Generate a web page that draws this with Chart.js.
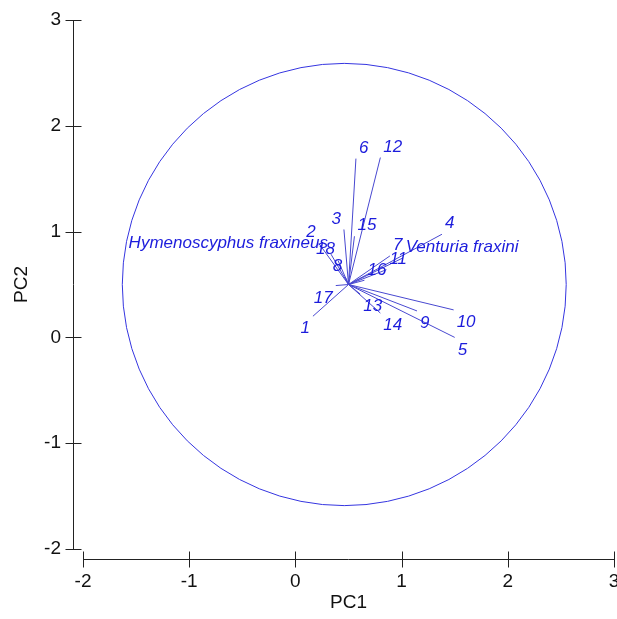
<!DOCTYPE html>
<html>
<head>
<meta charset="utf-8">
<style>
  html, body { margin: 0; padding: 0; background: #fff; }
  #wrap { width: 617px; height: 619px; }
</style>
<script src="https://cdn.jsdelivr.net/npm/chart.js@4"></script>
</head>
<body>
<div id="wrap"><canvas id="biplot" width="617" height="619"></canvas></div>
<script>
    // PCA biplot: loading vectors drawn from a common origin
    const vectorLabels = ['1', '2', '3', '4', '5', '6', '7', '8', '9', '10', '11', '12', '13', '14', '15', '16', '17', '18',
        'Hymenoscyphus fraxineus', 'Venturia fraxini'];
    const pc1End = [0.165, 0.22, 0.457, 1.38, 1.50, 0.57, 0.89, 0.47, 1.145, 1.49, 0.857, 0.80, 0.61, 0.80, 0.556, 0.65, 0.38, 0.40, 0.335, 1.01];
    const pc2End = [0.20, 0.89, 1.02, 0.975, 0.0, 1.69, 0.77, 0.57, 0.25, 0.26, 0.64, 1.70, 0.41, 0.23, 0.956, 0.54, 0.49, 0.73, 0.787, 0.75];
    const vectorOrigin = [0.5, 0.5];
    const axisTicks = [-2, -1, 0, 1, 2, 3];
    const circleCenter = [0.46, 0.5];
    const circleRadius = 2.09;

    const blue = '#1c1cdc';
    const lineBlue = '#4848d0';
    const font = '"Liberation Sans", Arial, sans-serif';

    const datasets = vectorLabels.map((label, i) => ({
        label,
        data: [
            { x: vectorOrigin[0], y: vectorOrigin[1] },
            { x: pc1End[i], y: pc2End[i] }
        ],
        showLine: true,
        borderColor: lineBlue,
        borderWidth: 1,
        pointRadius: 0,
        fill: false
    }));

    const circlePlugin = {
        id: 'circle',
        beforeDatasetsDraw(chart) {
            const { ctx, scales: { x, y } } = chart;
            const cx = x.getPixelForValue(circleCenter[0]);
            const cy = y.getPixelForValue(circleCenter[1]);
            const rx = x.getPixelForValue(circleCenter[0] + circleRadius) - cx;
            const ry = cy - y.getPixelForValue(circleCenter[1] + circleRadius);
            ctx.save();
            ctx.strokeStyle = '#3535e0';
            ctx.lineWidth = 1;
            ctx.beginPath();
            ctx.ellipse(cx, cy, rx, ry, 0, 0, Math.PI * 2);
            ctx.stroke();
            ctx.restore();
        }
    };

    const labelPlugin = {
        id: 'vectorLabels',
        afterDatasetsDraw(chart) {
            const { ctx, scales: { x, y } } = chart;
            ctx.save();
            ctx.fillStyle = blue;
            ctx.font = 'italic 17px ' + font;
            vectorLabels.forEach((label, i) => {
                const dx = pc1End[i] - vectorOrigin[0];
                const dy = pc2End[i] - vectorOrigin[1];
                const px = x.getPixelForValue(pc1End[i]);
                const py = y.getPixelForValue(pc2End[i]);
                ctx.textAlign = dx >= 0 ? 'left' : 'right';
                ctx.textBaseline = dy >= 0 ? 'bottom' : 'top';
                ctx.fillText(label, px + (dx >= 0 ? 3 : -3), py + (dy >= 0 ? -2 : 4));
            });
            ctx.restore();
        }
    };

    // detached axes, drawn a little outside the plot area
    const axesPlugin = {
        id: 'axes',
        afterDraw(chart) {
            const { ctx, chartArea, scales: { x, y } } = chart;
            const yAxisX = Math.round(chartArea.left - 10) + 0.5;
            const xAxisY = Math.round(chartArea.bottom + 10) + 0.5;
            ctx.save();
            ctx.strokeStyle = '#222';
            ctx.lineWidth = 1;
            ctx.beginPath();
            ctx.moveTo(yAxisX, y.getPixelForValue(axisTicks[axisTicks.length - 1]));
            ctx.lineTo(yAxisX, y.getPixelForValue(axisTicks[0]));
            axisTicks.forEach((t) => {
                const py = Math.round(y.getPixelForValue(t)) + 0.5;
                ctx.moveTo(yAxisX - 8, py);
                ctx.lineTo(yAxisX + 8, py);
            });
            ctx.moveTo(x.getPixelForValue(axisTicks[0]), xAxisY);
            ctx.lineTo(x.getPixelForValue(axisTicks[axisTicks.length - 1]), xAxisY);
            axisTicks.forEach((t) => {
                const px = Math.round(x.getPixelForValue(t)) + 0.5;
                ctx.moveTo(px, xAxisY - 8);
                ctx.lineTo(px, xAxisY + 8);
            });
            ctx.stroke();
            ctx.restore();
        }
    };

    const zeroPadding = (scale) => {
        scale.paddingLeft = 0;
        scale.paddingRight = 0;
        scale.paddingTop = 0;
        scale.paddingBottom = 0;
    };

    new Chart(document.getElementById('biplot'), {
        type: 'scatter',
        data: { datasets },
        options: {
            responsive: false,
            animation: false,
            layout: { padding: { top: 20, right: 3, left: 0, bottom: 0 } },
            plugins: {
                legend: { display: false },
                tooltip: { enabled: false }
            },
            scales: {
                x: {
                    type: 'linear',
                    min: -2,
                    max: 3,
                    afterFit(scale) {
                        scale.height = 70;
                        zeroPadding(scale);
                    },
                    ticks: {
                        stepSize: 1,
                        padding: 13,
                        color: '#111',
                        font: { family: font, size: 19 }
                    },
                    grid: { display: false },
                    border: { display: false },
                    title: {
                        display: true,
                        text: 'PC1',
                        color: '#111',
                        font: { family: font, size: 19 },
                        padding: { top: 0, bottom: 5 }
                    }
                },
                y: {
                    type: 'linear',
                    min: -2,
                    max: 3,
                    afterFit(scale) {
                        scale.width = 83;
                        zeroPadding(scale);
                    },
                    ticks: {
                        stepSize: 1,
                        padding: 14,
                        color: '#111',
                        font: { family: font, size: 19 }
                    },
                    grid: { display: false },
                    border: { display: false },
                    title: {
                        display: true,
                        text: 'PC2',
                        color: '#111',
                        font: { family: font, size: 19 },
                        padding: { top: 10, bottom: 0 }
                    }
                }
            }
        },
        plugins: [circlePlugin, labelPlugin, axesPlugin]
    });
</script>
</body>
</html>
